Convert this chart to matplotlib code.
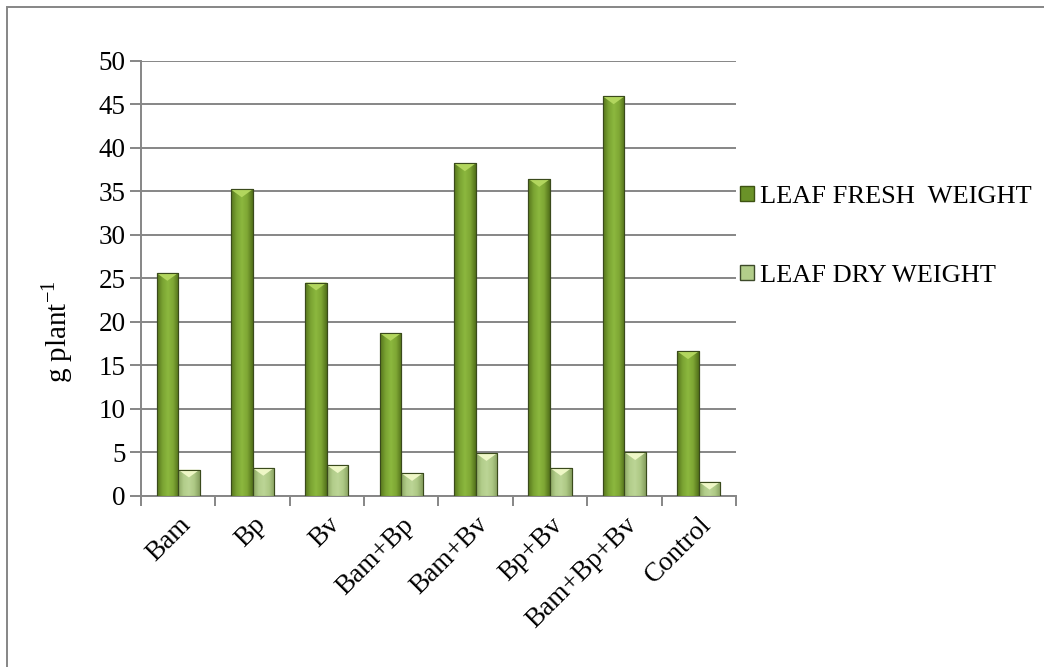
import numpy as np
import matplotlib
matplotlib.use("Agg")
import matplotlib.pyplot as plt
from matplotlib.patches import Rectangle, Polygon
from matplotlib.colors import LinearSegmentedColormap

plt.rcParams['font.family'] = ['Liberation Serif', 'DejaVu Serif']

categories = ['Bam', 'Bp', 'Bv', 'Bam+Bp', 'Bam+Bv', 'Bp+Bv', 'Bam+Bp+Bv', 'Control']
fresh_weight = [25.6, 35.2, 24.5, 18.7, 38.2, 36.4, 45.9, 16.6]
dry_weight = [3.0, 3.2, 3.5, 2.6, 4.9, 3.2, 5.0, 1.6]
series_names = ['LEAF FRESH  WEIGHT', 'LEAF DRY WEIGHT']
y_ticks = [0, 5, 10, 15, 20, 25, 30, 35, 40, 45, 50]

fresh_cmap = LinearSegmentedColormap.from_list(
    'fresh', ['#56741c', '#7aa332', '#8cb83f', '#7ea634', '#52701a'])
dry_cmap = LinearSegmentedColormap.from_list(
    'dry', ['#8aa562', '#b2cd8a', '#bcd596', '#adc884', '#869f5e'])

fig = plt.figure(figsize=(10.44, 6.67), dpi=100)
ax = fig.add_axes([0.135, 0.2568, 0.57, 0.6522])

x = np.arange(len(categories))
w = 0.29
bars_f = ax.bar(x - w / 2, fresh_weight, w, color='#7aa332', edgecolor='#3d5212',
                linewidth=0.8, zorder=3)
bars_d = ax.bar(x + w / 2, dry_weight, w, color='#b2cd8a', edgecolor='#3d4a2a',
                linewidth=0.8, zorder=3)

grad = np.linspace(0, 1, 64).reshape(1, -1)
cap_depth = 0.9  # size of the bevel at the top of the bars, in data units


def shade(bars, cmap, cap_color):
    for p in bars:
        x0, y0 = p.get_x(), p.get_y()
        bw, bh = p.get_width(), p.get_height()
        im = ax.imshow(grad, cmap=cmap, aspect='auto', zorder=3.5,
                       extent=(x0, x0 + bw, y0, y0 + bh), interpolation='bilinear')
        im.set_clip_path(p)
        d = min(cap_depth, bh)
        cap = Polygon([(x0, y0 + bh), (x0 + bw, y0 + bh), (x0 + bw / 2, y0 + bh - d)],
                      closed=True, facecolor=cap_color, edgecolor='none', zorder=3.6)
        ax.add_patch(cap)
        outline = Rectangle((x0, y0), bw, bh, fill=False, edgecolor='#3a4a1c',
                            linewidth=0.8, zorder=3.7)
        ax.add_patch(outline)


shade(bars_f, fresh_cmap, '#b2d65e')
shade(bars_d, dry_cmap, '#eef7c6')

ax.set_xlim(-0.5, len(categories) - 0.5)
ax.set_ylim(0, 50)
ax.set_yticks(y_ticks)
ax.set_yticklabels([str(t) for t in y_ticks], fontsize=19.5)
ax.yaxis.grid(True, color='#868686', linewidth=1.4, zorder=0)
ax.set_axisbelow(True)

ax.set_xticks(x)
ax.set_xticklabels(categories, fontsize=19.5, rotation=45, ha='right',
                   rotation_mode='anchor')
ax.set_xticks(np.arange(-0.5, len(categories), 1.0), minor=True)
ax.tick_params(axis='x', which='major', length=0, pad=12)
ax.tick_params(axis='x', which='minor', length=7, width=1.4, color='#868686',
               direction='out')
ax.tick_params(axis='y', length=8, width=1.4, color='#868686', pad=3)

for s in ['top', 'right']:
    ax.spines[s].set_visible(False)
for s in ['left', 'bottom']:
    ax.spines[s].set_color('#868686')
    ax.spines[s].set_linewidth(1.4)

ax.set_ylabel('g plant$^{\\mathregular{-1}}$', fontsize=21)
ax.yaxis.set_label_coords(-0.111, 0.378)

h_f = Rectangle((0, 0), 1, 1, facecolor='#6a9228', edgecolor='#3d5212')
h_d = Rectangle((0, 0), 1, 1, facecolor='#b2cd8a', edgecolor='#3d4a2a')
fig.legend([h_f, h_d], series_names, loc='upper left',
           bbox_to_anchor=(0.699, 0.737), frameon=False, fontsize=19,
           handlelength=0.5, handleheight=0.5, handletextpad=0.25,
           labelspacing=2.15, borderaxespad=0)

fig.add_artist(Rectangle((7 / 1044, -0.1), 1.2, 1 - 7 / 667 + 0.1,
                         transform=fig.transFigure, fill=False,
                         edgecolor='#868686', linewidth=1.4))

fig.savefig('out.png', dpi=100)
